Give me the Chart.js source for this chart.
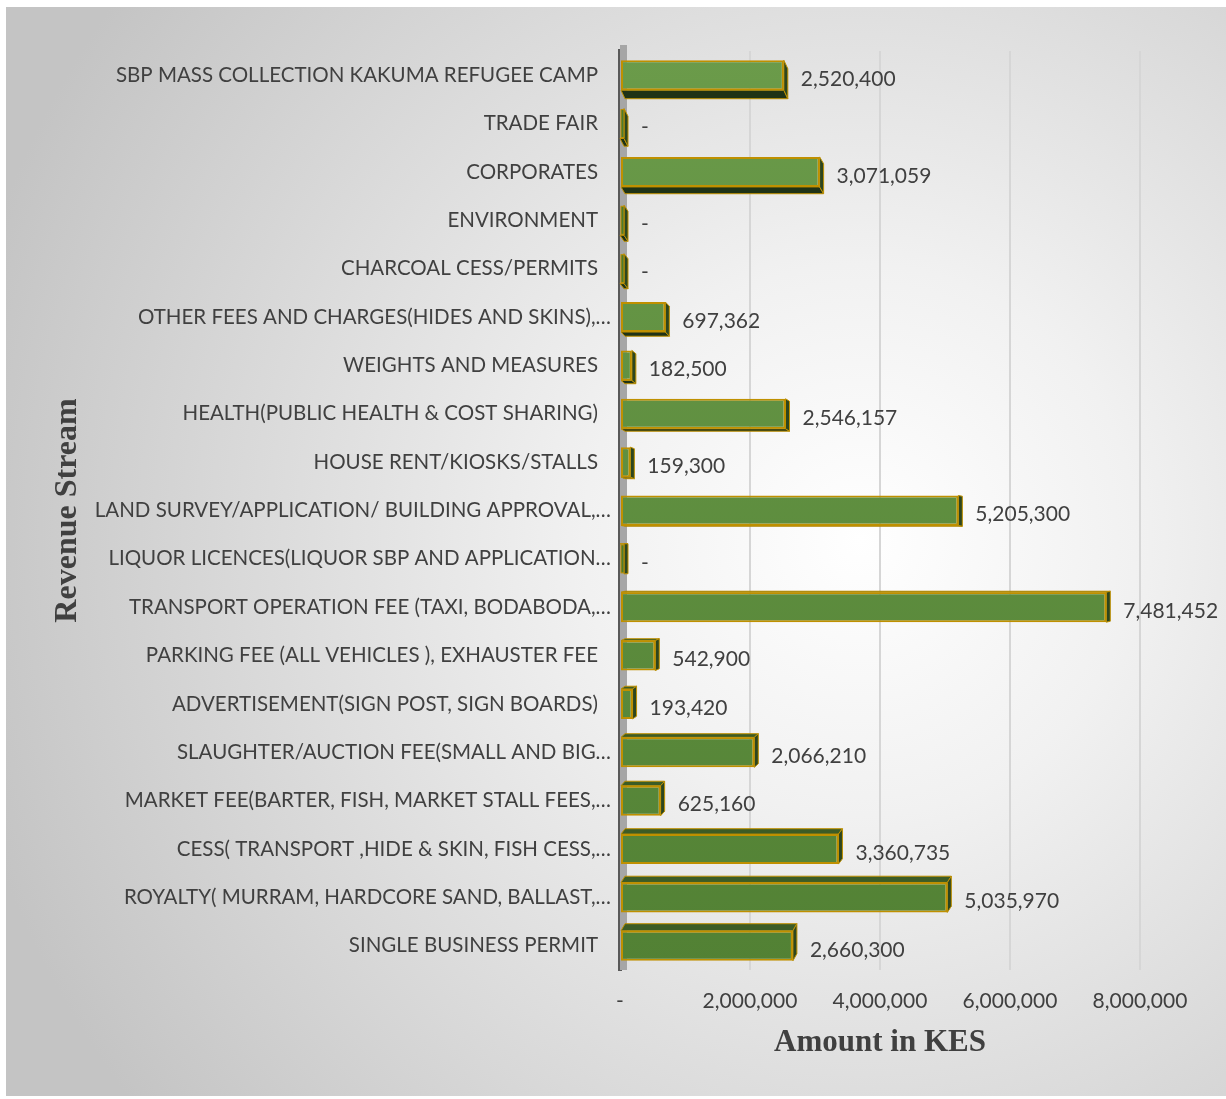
<!DOCTYPE html>
<html>
<head>
<meta charset="utf-8">
<script src="https://cdn.jsdelivr.net/npm/chart.js@4.4.1/dist/chart.umd.min.js"></script>
<style>
  html, body { margin: 0; padding: 0; background: #fff; }
  #wrap { width: 1226px; height: 1099px; }
</style>
</head>
<body>
<div id="wrap"><canvas id="myChart" width="1226" height="1099"></canvas></div>
<script>
const categories = [
    'SBP MASS COLLECTION KAKUMA REFUGEE CAMP',
    'TRADE FAIR',
    'CORPORATES',
    'ENVIRONMENT',
    'CHARCOAL CESS/PERMITS',
    'OTHER FEES AND CHARGES(HIDES AND SKINS),…',
    'WEIGHTS AND MEASURES',
    'HEALTH(PUBLIC HEALTH & COST SHARING)',
    'HOUSE RENT/KIOSKS/STALLS',
    'LAND SURVEY/APPLICATION/ BUILDING APPROVAL,…',
    'LIQUOR LICENCES(LIQUOR SBP AND APPLICATION…',
    'TRANSPORT OPERATION FEE (TAXI, BODABODA,…',
    'PARKING FEE (ALL VEHICLES ), EXHAUSTER FEE',
    'ADVERTISEMENT(SIGN POST, SIGN BOARDS)',
    'SLAUGHTER/AUCTION FEE(SMALL AND BIG…',
    'MARKET FEE(BARTER, FISH, MARKET STALL FEES,…',
    'CESS( TRANSPORT ,HIDE & SKIN, FISH CESS,…',
    'ROYALTY( MURRAM, HARDCORE SAND, BALLAST,…',
    'SINGLE BUSINESS PERMIT'
];

const amounts = [
    2520400, 0, 3071059, 0, 0, 697362, 182500, 2546157, 159300, 5205300,
    0, 7481452, 542900, 193420, 2066210, 625160, 3360735, 5035970, 2660300
];

const xTicks = [0, 2000000, 4000000, 6000000, 8000000];

const fmt = function (v) {
    return v === 0 ? '-' : v.toLocaleString('en-US');
};

const labelFont = 'Lato';
const textColor = '#404040';

// page background: soft radial grey
const backgroundPlugin = {
    id: 'panelBackground',
    beforeDraw: function (chart) {
        const ctx = chart.ctx;
        ctx.save();
        ctx.fillStyle = '#ffffff';
        ctx.fillRect(0, 0, chart.width, chart.height);
        const g = ctx.createRadialGradient(860, 540, 0, 860, 540, 920);
        g.addColorStop(0, '#ffffff');
        g.addColorStop(0.3, '#f1f1f1');
        g.addColorStop(1, '#c4c4c4');
        ctx.fillStyle = g;
        ctx.fillRect(6, 7, chart.width - 6, chart.height - 10);
        ctx.restore();
    }
};

// category names: cut-off names spill their ellipsis past the text edge, like Excel
const categoryLabelPlugin = {
    id: 'categoryLabels',
    afterDraw: function (chart) {
        const ctx = chart.ctx;
        const yScale = chart.scales.y;
        const right = chart.chartArea.left - 22;
        ctx.save();
        ctx.fillStyle = textColor;
        ctx.font = '20.5px ' + labelFont;
        ctx.textAlign = 'right';
        ctx.textBaseline = 'middle';
        categories.forEach(function (name, i) {
            const cut = name.endsWith('…');
            const y = yScale.getPixelForValue(i);
            ctx.fillText(name, right + (cut ? 13 : 0), y);
        });
        ctx.restore();
    }
};

// grey wall + bar depth faces, drawn under the bars
const depthPlugin = {
    id: 'barDepth',
    beforeDatasetsDraw: function (chart) {
        const ctx = chart.ctx;
        const area = chart.chartArea;
        ctx.save();
        ctx.fillStyle = '#a6a6a6';
        ctx.fillRect(area.left, area.top - 6, 7, area.bottom - area.top + 6);

        const meta = chart.getDatasetMeta(0);
        const vanish = (area.top + area.bottom) / 2 + 40;
        meta.data.forEach(function (bar, i) {
            const x0 = bar.base;
            const x1 = Math.max(bar.x, x0 + 4);
            const t = bar.y - bar.height / 2;
            const b = bar.y + bar.height / 2;
            const d = (vanish - bar.y) * 0.018;
            const dx = 4;
            ctx.lineWidth = 1;
            ctx.strokeStyle = '#bf9000';
            // top or bottom face
            ctx.beginPath();
            if (d > 0) {
                ctx.moveTo(x0, b); ctx.lineTo(x1, b);
                ctx.lineTo(x1 + dx, b + d); ctx.lineTo(x0 + dx, b + d);
                ctx.fillStyle = '#1f3316';
            } else {
                ctx.moveTo(x0, t); ctx.lineTo(x1, t);
                ctx.lineTo(x1 + dx, t + d); ctx.lineTo(x0 + dx, t + d);
                ctx.fillStyle = '#3c5c26';
            }
            ctx.closePath();
            ctx.fill();
            ctx.stroke();
            // right face
            ctx.beginPath();
            ctx.moveTo(x1, t); ctx.lineTo(x1 + dx, t + d);
            ctx.lineTo(x1 + dx, b + d); ctx.lineTo(x1, b);
            ctx.closePath();
            ctx.fillStyle = '#2c4620';
            ctx.fill();
            ctx.stroke();
            if (amounts[i] === 0) {
                ctx.fillStyle = '#4d7a30';
                ctx.fillRect(x0 + 1, t + 1, 3, bar.height - 2);
                ctx.strokeRect(x0 + 1, t + 1, 3, bar.height - 2);
            }
        });
        ctx.restore();
    },
    afterDatasetsDraw: function (chart) {
        const ctx = chart.ctx;
        const meta = chart.getDatasetMeta(0);
        ctx.save();
        ctx.fillStyle = textColor;
        ctx.font = '21px ' + labelFont;
        ctx.textAlign = 'left';
        ctx.textBaseline = 'middle';
        meta.data.forEach(function (bar, i) {
            const x = Math.max(bar.x, bar.base + 4) + 17;
            ctx.fillText(fmt(amounts[i]), x, bar.y + 4);
        });
        ctx.restore();
    }
};

const chartConfig = {
    type: 'bar',
    data: {
        labels: categories,
        datasets: [
            {
                label: 'Amount in KES',
                data: amounts,
                backgroundColor: function (c) {
                    const area = c.chart.chartArea;
                    if (!area) return '#5a8a3c';
                    const g = c.chart.ctx.createLinearGradient(0, area.top, 0, area.bottom);
                    g.addColorStop(0, '#6b9b4a');
                    g.addColorStop(1, '#528134');
                    return g;
                },
                borderColor: '#bf9000',
                borderWidth: 2,
                borderSkipped: false,
                barPercentage: 0.62,
                categoryPercentage: 1
            }
        ]
    },
    options: {
        indexAxis: 'y',
        responsive: false,
        animation: false,
        layout: {
            padding: { left: 6, top: 51, right: 86, bottom: 0 }
        },
        scales: {
            x: {
                min: 0,
                max: 8000000,
                afterBuildTicks: function (scale) {
                    scale.ticks = xTicks.map(function (v) { return { value: v }; });
                },
                afterFit: function (scale) {
                    scale.height = 129;
                },
                grid: {
                    drawTicks: false,
                    lineWidth: 2,
                    color: function (c) {
                        return c.tick && c.tick.value === 0 ? 'rgba(0,0,0,0)' : '#d6d6d6';
                    }
                },
                border: { display: false },
                ticks: {
                    padding: 19,
                    color: textColor,
                    font: { family: labelFont, size: 21 },
                    callback: function (value) {
                        return fmt(value);
                    }
                },
                title: {
                    display: true,
                    text: 'Amount in KES',
                    color: textColor,
                    font: { family: 'Liberation Serif', size: 31, weight: 'bold' },
                    padding: { top: 0, bottom: 37 }
                }
            },
            y: {
                afterFit: function (scale) {
                    scale.width = 614;
                },
                grid: { display: false, drawTicks: false },
                border: { display: true, color: '#595959', width: 4 },
                ticks: { display: false, autoSkip: false },
                title: {
                    display: true,
                    text: 'Revenue Stream',
                    color: textColor,
                    font: { family: 'Liberation Serif', size: 32, weight: 'bold' },
                    padding: { top: 43, bottom: 0 }
                }
            }
        },
        plugins: {
            legend: { display: false },
            tooltip: { enabled: false }
        }
    },
    plugins: [backgroundPlugin, depthPlugin, categoryLabelPlugin]
};

const ctx = document.getElementById('myChart').getContext('2d');
const myChart = new Chart(ctx, chartConfig);
</script>
</body>
</html>
